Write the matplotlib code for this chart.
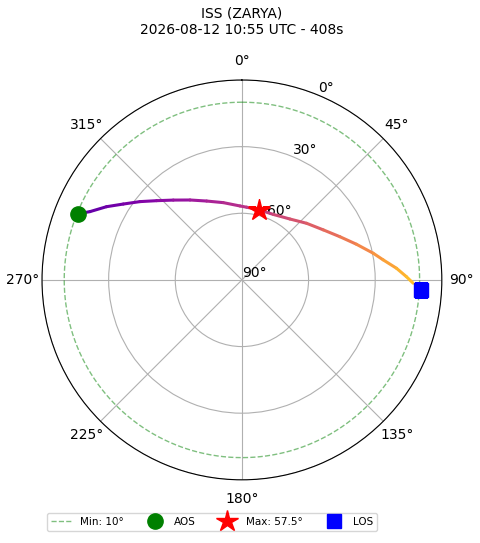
import numpy as np
import matplotlib
matplotlib.use("Agg")
import matplotlib.pyplot as plt
from matplotlib.collections import LineCollection
from matplotlib.lines import Line2D

# pass track (azimuth deg, elevation deg)
track_az = [292.0, 294.2, 298.4, 302.6, 307.5, 312.9, 319.3, 327.0, 335.9, 346.4,
            358.5, 3.7, 13.5, 25.7, 38.2, 48.8, 58.4, 66.2, 72.7, 78.5,
            81.9, 85.7, 88.9, 91.1]
track_el = [10.5, 15.0, 20.7, 26.6, 32.1, 37.6, 42.6, 47.1, 51.1, 54.2,
            56.7, 57.2, 57.5, 57.3, 55.1, 51.3, 47.0, 41.8, 36.0, 29.7,
            25.8, 20.2, 15.9, 12.9]

aos_az, aos_el = 292.0, 10.5
max_az, max_el = 13.5, 57.5
los_az, los_el = 93.2, 9.1
min_el = 10

title = "ISS (ZARYA)\n2026-08-12 10:55 UTC - 408s"

fig = plt.figure(figsize=(4.8, 5.43), dpi=100)
ax = fig.add_axes([0.0875, 0.116, 0.833, 0.737], projection="polar")
ax.set_theta_zero_location("N")
ax.set_theta_direction(-1)
ax.set_rlim(0, 90)
ax.set_rticks([0, 30, 60, 90])
ax.set_yticklabels(["90°", "60°", "30°", "0°"])
ax.set_thetagrids(np.arange(0, 360, 45))
ax.grid(True, color="#b0b0b0", linewidth=0.8)

# track coloured along the pass
th = np.unwrap(np.radians(track_az))
r = 90 - np.array(track_el)
pts = np.column_stack([th, r])
segs = np.stack([pts[:-1], pts[1:]], axis=1)
x, y = r * np.sin(th), r * np.cos(th)
d = np.concatenate([[0], np.cumsum(np.hypot(np.diff(x), np.diff(y)))])
s = (d[:-1] + d[1:]) / 2 / d[-1]
cval = 0.17 + 0.42 * s + 0.28 * s ** 2
lc = LineCollection(segs, colors=plt.cm.plasma(cval), linewidths=2.2, capstyle="round")
ax.add_collection(lc)

# min elevation circle
circ = np.linspace(0, 2 * np.pi, 361)
ax.plot(circ, np.full_like(circ, 90 - min_el), "--", color="green", alpha=0.5, linewidth=1)

ax.plot(np.radians(aos_az), 90 - aos_el, "o", color="green", markersize=11)
ax.plot(np.radians(max_az), 90 - max_el, "*", color="red", markersize=16)
ax.plot(np.radians(los_az), 90 - los_el, "s", color="blue", markersize=10)

ax.set_title(title, fontsize=10, pad=14)

handles = [
    Line2D([], [], linestyle="--", color="green", alpha=0.5, linewidth=1),
    Line2D([], [], marker="o", color="green", linestyle="none", markersize=11),
    Line2D([], [], marker="*", color="red", linestyle="none", markersize=16),
    Line2D([], [], marker="s", color="blue", linestyle="none", markersize=10),
]
labels = [f"Min: {min_el}°", "AOS", f"Max: {max_el}°", "LOS"]
fig.legend(handles, labels, loc="center", bbox_to_anchor=(212 / 480, 1 - 522 / 543),
           ncol=4, fontsize=7.5, frameon=True)

fig.savefig("out.png", dpi=100)
